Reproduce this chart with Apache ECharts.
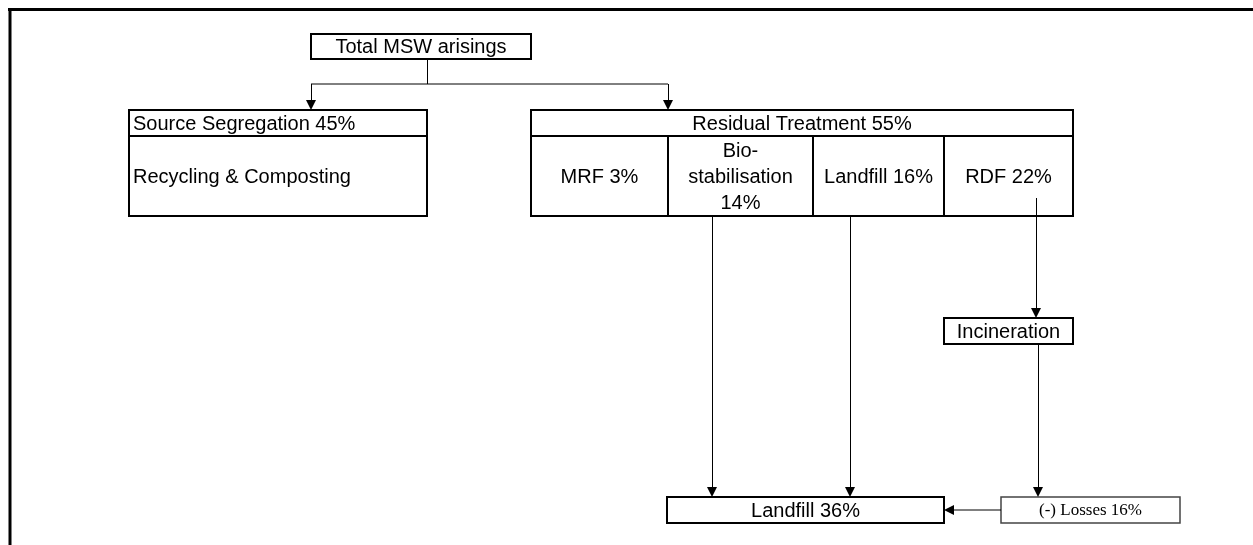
<!DOCTYPE html>
<html><head><meta charset="utf-8">
<script src="https://cdn.jsdelivr.net/npm/echarts@6/dist/echarts.min.js"></script>
<style>html,body{margin:0;padding:0;background:#fff}#c{width:1253px;height:545px}</style>
</head><body><div id="c"></div>
<script>
// ---- data ----
const stageNames = ['Total MSW arisings','Source Segregation','Recycling & Composting','Residual Treatment','MRF','Bio-\nstabilisation','Landfill','RDF','Incineration','Landfill','(-) Losses'];
const stageShares = [null,45,null,55,3,14,16,22,null,36,16];
const shareSeparators = [' ',' ',' ',' ',' ','\n',' ',' ',' ',' ',' '];

// ---- layout (canvas units) ----
const boxRects = [
  [311,34,531,59],
  [129,110,427,136],
  [129,136,427,216],
  [531,110,1073,136],
  [531,136,668,216],
  [668,136,813,216],
  [813,136,944,216],
  [944,136,1073,216],
  [944,318,1073,344],
  [667,497,944,523],
  [1001,497,1180,523]
];
const boxAlign = ['center','left','left','center','center','center','center','center','center','center','center'];
const boxSerif = [false,false,false,false,false,false,false,false,false,false,true];
const linkPaths = [
  [[427,59],[427,84]],
  [[311,84],[668,84]],
  [[311,84],[311,110]],
  [[668,84],[668,110]],
  [[712,216],[712,497]],
  [[850,216],[850,497]],
  [[1036,198],[1036,318]],
  [[1038,344],[1038,497]],
  [[1001,510],[944,510]]
];
const linkArrow = [false,false,true,true,true,true,true,true,true];
const framePaths = [[[8,9.5],[1253,9.5]],[[10,8],[10,545]]];

function label(i){
  return stageShares[i] == null ? stageNames[i] : stageNames[i] + shareSeparators[i] + stageShares[i] + '%';
}

const chart = echarts.init(document.getElementById('c'), null, {renderer:'canvas'});
chart.setOption({
  animation:false,
  grid:{left:0,right:0,top:0,bottom:0},
  xAxis:{type:'value',min:0,max:1253,show:false},
  yAxis:{type:'value',min:0,max:545,inverse:true,show:false},
  series:[
    {
      type:'custom',
      data: framePaths.map((p,i)=>[i]),
      renderItem(params, api){
        const pts = framePaths[api.value(0)].map(p=>api.coord(p));
        return {type:'polyline', shape:{points:pts}, style:{stroke:'#000', lineWidth:3, fill:null}};
      }
    },
    {
      type:'custom',
      data: boxRects.map((r,i)=>[i]),
      renderItem(params, api){
        const i = api.value(0);
        const r = boxRects[i];
        const a = api.coord([r[0],r[1]]), b = api.coord([r[2],r[3]]);
        const serif = boxSerif[i];
        const left = boxAlign[i] === 'left';
        return {type:'group', children:[
          {type:'rect', shape:{x:a[0], y:a[1], width:b[0]-a[0], height:b[1]-a[1]},
           style:{fill:'#fff', stroke: serif ? '#444' : '#000', lineWidth: serif ? 1.5 : 2}},
          {type:'text', z2:5, style:{
            text: label(i),
            x: left ? a[0]+4 : (a[0]+b[0])/2,
            y: (a[1]+b[1])/2 + 1,
            align: left ? 'left' : 'center',
            verticalAlign:'middle',
            fontFamily: serif ? 'Liberation Serif' : 'Liberation Sans',
            fontSize: serif ? 17 : 20,
            lineHeight: 26,
            fill:'#000'
          }}
        ]};
      }
    },
    {
      type:'custom',
      z:3,
      data: linkPaths.map((p,i)=>[i]),
      renderItem(params, api){
        const i = api.value(0);
        const pts = linkPaths[i].map(p=>api.coord(p));
        const children = [];
        let line = pts.map(p=>[p[0],p[1]]);
        if (linkArrow[i]) {
          const e = line[line.length-1], s = line[line.length-2];
          const dx = e[0]-s[0], dy = e[1]-s[1], L = Math.hypot(dx,dy);
          const ux = dx/L, uy = dy/L, len = 10, hw = 5;
          const bx = e[0]-ux*len, by = e[1]-uy*len;
          line[line.length-1] = [bx,by];
          children.push({type:'polygon', shape:{points:[[e[0],e[1]],[bx-uy*hw,by+ux*hw],[bx+uy*hw,by-ux*hw]]}, style:{fill:'#000'}});
        }
        line = line.map(p=>[Math.round(p[0])+ (p[0]===line[0][0] && line[0][0]===line[line.length-1][0] ? 0.5 : 0), p[1]]);
        children.unshift({type:'polyline', shape:{points:line}, style:{stroke:'#000', lineWidth:1, fill:null}});
        return {type:'group', children};
      }
    }
  ]
});
</script>
</body></html>
